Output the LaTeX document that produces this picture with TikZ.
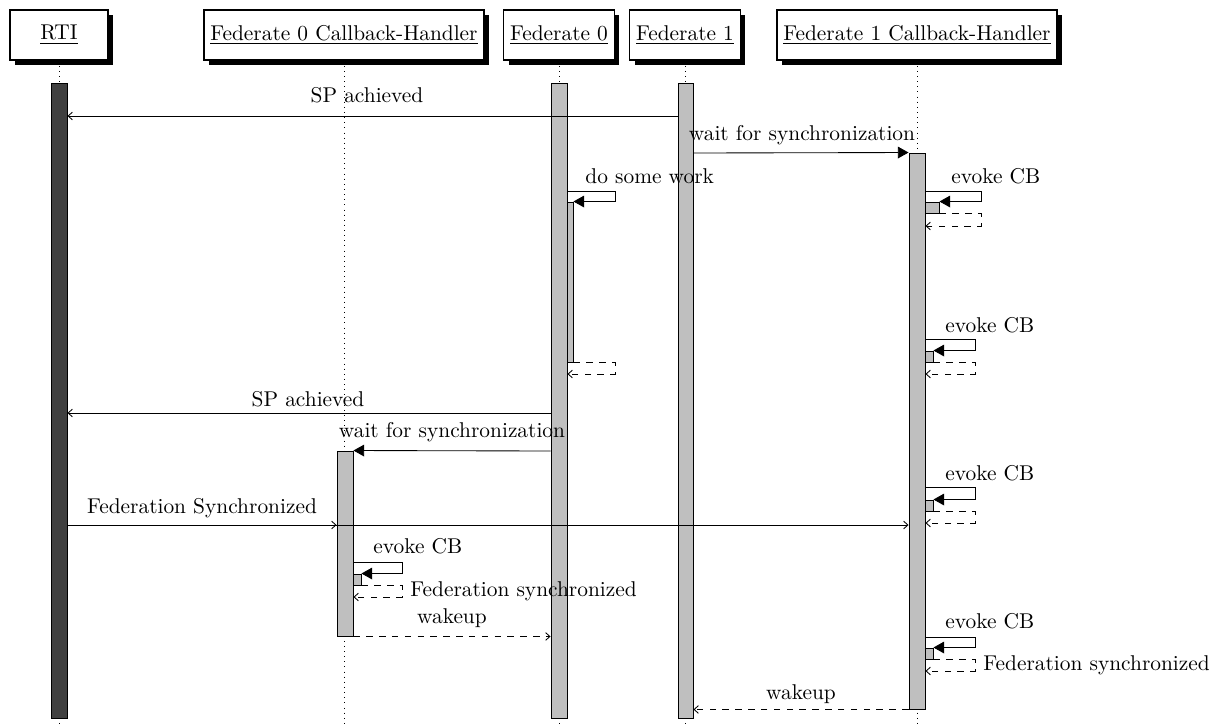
\documentclass[tikz,border=0pt]{standalone}
\usetikzlibrary{arrows.meta,shadows,fit}
\begin{document}
\begin{tikzpicture}[x=0.4675pt,y=-0.4675pt,
  head/.style={draw, line width=0.6pt, fill=white, inner xsep=3pt,
    minimum height=23.4pt,
    drop shadow={fill=black, opacity=1, shadow xshift=2.4pt, shadow yshift=-2.2pt}},
  life/.style={dotted, line width=0.4pt},
  actbar/.style={draw, line width=0.45pt, fill=black!25, inner sep=0pt},
  rtibar/.style={actbar, fill=black!75},
  call/.style={line width=0.4pt, -{Triangle[length=5pt,width=5.5pt]}},
  msg/.style={line width=0.4pt, -{Straight Barb[length=2pt,width=3.6pt]}},
  ret/.style={msg, dashed},
  lbl/.style={anchor=base, inner sep=0pt},
  lblw/.style={anchor=base west, inner sep=0pt},
]
\useasboundingbox (0,0) rectangle (1220,725);

% instances
\node[head, minimum width=45.8pt] (rti) at (59,35) {\underline{RTI}};
\node[head] (cbz) at (344,35) {\underline{Federate 0 Callback-Handler}};
\node[head] (fz)  at (559,35) {\underline{Federate 0}};
\node[head] (fo)  at (685,35) {\underline{Federate 1}};
\node[head] (cbo) at (917,35) {\underline{Federate 1 Callback-Handler}};

% lifelines
\coordinate (bottom) at (0,725);
\foreach \n in {rti,cbz,fz,fo,cbo}
  \draw[life] (\n.south) -- (\n.south |- bottom);

% activation bars
\node[rtibar, fit={(51,83) (67,718)}] (rtib) {};
\node[actbar, fit={(551,83) (567,718)}] (fzb) {};
\node[actbar, fit={(678,83) (693,718)}] (fob) {};
\node[actbar, fit={(909,153) (925,709)}] (cbob) {};
\node[actbar, fit={(337,451) (353,636)}] (cbzb) {};

% nested activations
\node[actbar, fit={(567,202) (573,362)}] (work) {};
\node[actbar, fit={(925,202) (939,213)}] (cba) {};
\node[actbar, fit={(925,351) (933,362)}] (cbb) {};
\node[actbar, fit={(925,500) (933,511)}] (cbc) {};
\node[actbar, fit={(925,648) (933,659)}] (cbd) {};
\node[actbar, fit={(353,574) (361,585)}] (cbzi) {};

% message levels
\coordinate (m1) at (0,116);
\coordinate (m2) at (0,153);
\coordinate (m3) at (0,413);
\coordinate (m4) at (0,451);
\coordinate (m5) at (0,525);

% Federate 1 -> RTI
\draw[msg] (fob.west |- m1) -- (rtib.east |- m1);
% Federate 1 -> its callback handler
\draw[call] (fob.east |- m2) -- (cbob.north west);

% Federate 0 works
\coordinate (s1) at (615,191);
\coordinate (r1) at (615,374);
\draw[call] (fzb.east |- s1) -- (s1) |- (work.north east);
\draw[ret] (work.south east) -| (r1) -- (fzb.east |- r1);

% callbacks of Federate 1 handler
\coordinate (s2) at (981,191);
\coordinate (r2) at (981,226);
\draw[call] (cbob.east |- s2) -- (s2) |- (cba.north east);
\draw[ret] (cba.south east) -| (r2) -- (cbob.east |- r2);

\coordinate (s3) at (975,339);
\coordinate (r3) at (975,374);
\draw[call] (cbob.east |- s3) -- (s3) |- (cbb.north east);
\draw[ret] (cbb.south east) -| (r3) -- (cbob.east |- r3);

\coordinate (s4) at (975,487);
\coordinate (r4) at (975,523);
\draw[call] (cbob.east |- s4) -- (s4) |- (cbc.north east);
\draw[ret] (cbc.south east) -| (r4) -- (cbob.east |- r4);

\coordinate (s5) at (975,637);
\coordinate (r5) at (975,671);
\draw[call] (cbob.east |- s5) -- (s5) |- (cbd.north east);
\draw[ret] (cbd.south east) -| (r5) -- (cbob.east |- r5);

% Federate 0 -> RTI and its handler
\draw[msg] (fzb.west |- m3) -- (rtib.east |- m3);
\draw[call] (fzb.west |- m4) -- (cbzb.north east);

% RTI broadcasts synchronization
\draw[msg] (rtib.east |- m5) -- (cbzb.west |- m5);
\draw[msg] (rtib.east |- m5) -- (cbob.west |- m5);

% callback of Federate 0 handler
\coordinate (s6) at (402,562);
\coordinate (r6) at (402,597);
\draw[call] (cbzb.east |- s6) -- (s6) |- (cbzi.north east);
\draw[ret] (cbzi.south east) -| (r6) -- (cbzb.east |- r6);

% wakeups
\draw[ret] (cbzb.south east) -- (fzb.west |- cbzb.south);
\draw[ret] (cbob.south west) -- (fob.east |- cbob.south);

% labels
\node[lbl] (t1) at (367,102) {SP achieved};
\node[lbl] (t2) at (802,140) {wait for synchronization};
\node[lblw] (t3) at (585,183) {do some work};
\node[lblw] (t4) at (951,183) {evoke CB};
\node[lblw] (t5) at (945,332) {evoke CB};
\node[lbl] (t6) at (308,406) {SP achieved};
\node[lbl] (t7) at (452,437) {wait for synchronization};
\node[lblw] (t8) at (945,480) {evoke CB};
\node[lbl] (t9) at (202,513) {Federation Synchronized};
\node[lblw] (t10) at (373,553) {evoke CB};
\node[lblw] (t11) at (410,596) {Federation synchronized};
\node[lbl] (t12) at (452,623) {wakeup};
\node[lblw] (t13) at (945,628) {evoke CB};
\node[lblw] (t14) at (983,670) {Federation synchronized};
\node[lbl] (t15) at (801,699) {wakeup};
\end{tikzpicture}
\end{document}
